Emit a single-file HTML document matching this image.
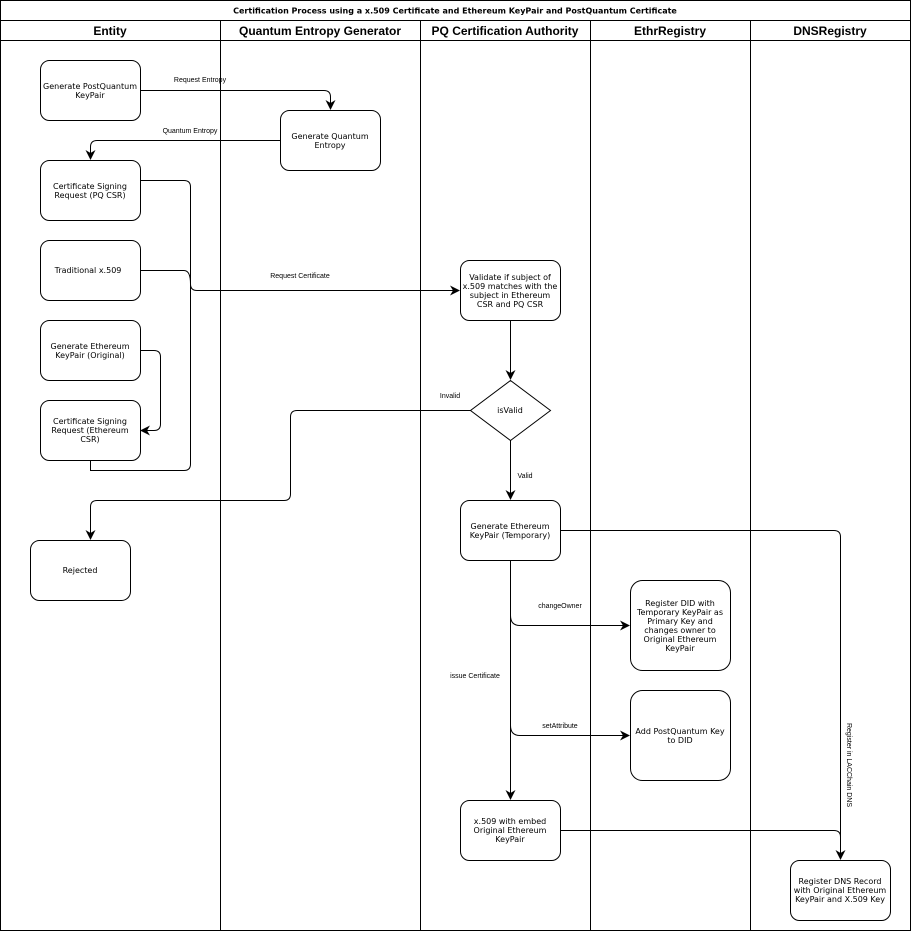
<!DOCTYPE html>
<html><head><meta charset="utf-8"><style>
html,body{margin:0;padding:0;background:#fff}
svg{display:block}
text{font-family:"Liberation Sans","DejaVu Sans",sans-serif;fill:#000}
.b text{font-family:"DejaVu Sans","Liberation Sans",sans-serif;font-size:8px}
.l{font-size:7px}
</style></head><body>
<svg width="911" height="932" viewBox="0 0 911 932" xmlns="http://www.w3.org/2000/svg">
<defs><marker id="a" markerWidth="12" markerHeight="12" refX="9" refY="5" orient="auto" markerUnits="userSpaceOnUse"><path d="M0,0 L10,5 L0,10 L3,5 Z" fill="#000"/></marker></defs>
<g fill="none" stroke="#000" stroke-width="1">
<rect x="0.5" y="0.5" width="910" height="930"/>
<line x1="0" y1="20.5" x2="911" y2="20.5"/>
<line x1="0" y1="40.5" x2="911" y2="40.5"/>
<line x1="220.5" y1="20" x2="220.5" y2="931"/>
<line x1="420.5" y1="20" x2="420.5" y2="931"/>
<line x1="590.5" y1="20" x2="590.5" y2="931"/>
<line x1="750.5" y1="20" x2="750.5" y2="931"/>
<rect x="40.5" y="60.5" width="100" height="60" rx="9"/>
<rect x="280.5" y="110.5" width="100" height="60" rx="9"/>
<rect x="40.5" y="160.5" width="100" height="60" rx="9"/>
<rect x="40.5" y="240.5" width="100" height="60" rx="9"/>
<rect x="40.5" y="320.5" width="100" height="60" rx="9"/>
<rect x="40.5" y="400.5" width="100" height="60" rx="9"/>
<rect x="30.5" y="540.5" width="100" height="60" rx="9"/>
<rect x="460.5" y="260.5" width="100" height="60" rx="9"/>
<path d="M510.5,380.5 L550.5,410.5 L510.5,440.5 L470.5,410.5 Z"/>
<rect x="460.5" y="500.5" width="100" height="60" rx="9"/>
<rect x="630.5" y="580.5" width="100" height="90" rx="12"/>
<rect x="630.5" y="690.5" width="100" height="90" rx="12"/>
<rect x="460.5" y="800.5" width="100" height="60" rx="9"/>
<rect x="790.5" y="860.5" width="100" height="60" rx="9"/>
<path d="M140.5,90.5 H324 Q330.5,90.5 330.5,97 V109" marker-end="url(#a)"/>
<path d="M280.5,140.5 H97 Q90.5,140.5 90.5,147 V159" marker-end="url(#a)"/>
<path d="M140.5,180.5 H184 Q190.5,180.5 190.5,187 V464 Q190.5,470.5 184,470.5 H90.5 V460.5"/>
<path d="M140.5,270.5 H184 Q190.5,270.5 190.5,284 Q190.5,290.5 197,290.5 H459" marker-end="url(#a)"/>
<path d="M140.5,350.5 H154 Q160.5,350.5 160.5,357 V424 Q160.5,430.5 154,430.5 H141" marker-end="url(#a)"/>
<path d="M510.5,320.5 V379" marker-end="url(#a)"/>
<path d="M470.5,410.5 H297 Q290.5,410.5 290.5,417 V494 Q290.5,500.5 284,500.5 H97 Q90.5,500.5 90.5,507 V539" marker-end="url(#a)"/>
<path d="M510.5,440.5 V499" marker-end="url(#a)"/>
<path d="M560.5,530.5 H834 Q840.5,530.5 840.5,537 V859" marker-end="url(#a)"/>
<path d="M510.5,560.5 V799" marker-end="url(#a)"/>
<path d="M510.5,615.5 Q510.5,625.5 520,625.5 H629" marker-end="url(#a)"/>
<path d="M510.5,725.5 Q510.5,735.5 520,735.5 H629" marker-end="url(#a)"/>
<path d="M560.5,830.5 H834 Q840.5,830.5 840.5,837 V858"/>
</g>
<text x="455" y="13.5" text-anchor="middle" style="font-family:'DejaVu Sans',sans-serif;font-size:8px;font-weight:bold">Certification Process using a x.509 Certificate and Ethereum KeyPair and PostQuantum Certificate</text>
<g style="font-size:12px;font-weight:bold" text-anchor="middle">
<text x="110" y="35">Entity</text><text x="320" y="35">Quantum Entropy Generator</text><text x="505" y="35">PQ Certification Authority</text><text x="670" y="35">EthrRegistry</text><text x="830" y="35">DNSRegistry</text>
</g>
<g class="b" text-anchor="middle">
<text x="90" y="89">Generate PostQuantum</text><text x="90" y="98">KeyPair</text>
<text x="330" y="139">Generate Quantum</text><text x="330" y="148">Entropy</text>
<text x="90" y="189">Certificate Signing</text><text x="90" y="198">Request (PQ CSR)</text>
<text x="88" y="273">Traditional x.509</text>
<text x="90" y="349">Generate Ethereum</text><text x="90" y="358">KeyPair (Original)</text>
<text x="90" y="424">Certificate Signing</text><text x="90" y="433">Request (Ethereum</text><text x="90" y="442">CSR)</text>
<text x="80" y="573">Rejected</text>
<text x="510" y="280">Validate if subject of</text><text x="510" y="289">x.509 matches with the</text><text x="510" y="298">subject in Ethereum</text><text x="510" y="307">CSR and PQ CSR</text>
<text x="510" y="413">isValid</text>
<text x="510" y="529">Generate Ethereum</text><text x="510" y="538">KeyPair (Temporary)</text>
<text x="680" y="606">Register DID with</text><text x="680" y="615">Temporary KeyPair as</text><text x="680" y="624">Primary Key and</text><text x="680" y="633">changes owner to</text><text x="680" y="642">Original Ethereum</text><text x="680" y="651">KeyPair</text>
<text x="680" y="734">Add PostQuantum Key</text><text x="680" y="743">to DID</text>
<text x="510" y="824">x.509 with embed</text><text x="510" y="833">Original Ethereum</text><text x="510" y="842">KeyPair</text>
<text x="840" y="884">Register DNS Record</text><text x="840" y="893">with Original Ethereum</text><text x="840" y="902">KeyPair and X.509 Key</text>
</g>
<g class="l" text-anchor="middle">
<text x="200" y="82">Request Entropy</text>
<text x="190" y="133">Quantum Entropy</text>
<text x="300" y="278">Request Certificate</text>
<text x="450" y="398">Invalid</text>
<text x="525" y="478">Valid</text>
<text x="475" y="678">issue Certificate</text>
<text x="560" y="608">changeOwner</text>
<text x="560" y="728">setAttribute</text>
<text transform="translate(847,765) rotate(90)">Register in LACChain DNS</text>
</g>
</svg>
</body></html>
